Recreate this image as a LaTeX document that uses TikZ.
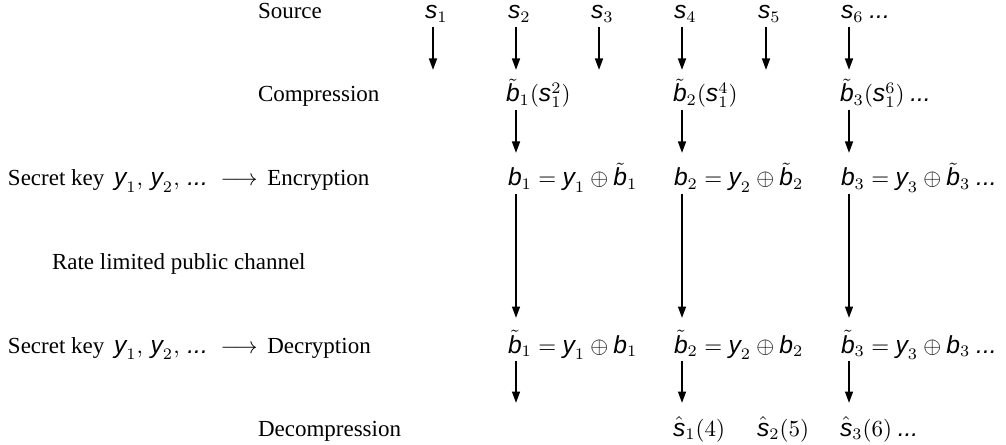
\documentclass[tikz,border=0pt]{standalone}
\usepackage[no-math]{fontspec}
\setmainfont{Liberation Serif}
\newfontfamily\sansmathfont[Scale=1.07]{Liberation Sans}
\usetikzlibrary{arrows.meta}
\newcommand\mv[1]{\mbox{\sansmathfont\itshape #1}}
\begin{document}
\begin{tikzpicture}[x=0.4348pt,y=-0.4348pt,
  lbl/.style={anchor=base west, inner sep=0pt, outer sep=0pt},
  flow/.style={line width=0.85pt, -{Triangle[length=5pt,width=3.4pt]}}]
\useasboundingbox (0,0) rectangle (1006,445);
% row labels
\node[lbl] (source) at (258,19) {Source};
\node[lbl] (compression) at (258,102) {Compression};
\node[lbl] (encryption) at (8,186) {Secret key\, $\mv{y}_1,\, \mv{y}_2,\, \mv{...}\; \longrightarrow$\, Encryption};
\node[lbl] (channel) at (52,269) {Rate limited public channel};
\node[lbl] (decryption) at (8,353) {Secret key\, $\mv{y}_1,\, \mv{y}_2,\, \mv{...}\; \longrightarrow$\, Decryption};
\node[lbl] (decompression) at (258,436) {Decompression};
% source row
\node[lbl] (s1) at (425,19) {$\mv{s}_1$};
\node[lbl] (s2) at (508,19) {$\mv{s}_2$};
\node[lbl] (s3) at (591,19) {$\mv{s}_3$};
\node[lbl] (s4) at (674,19) {$\mv{s}_4$};
\node[lbl] (s5) at (758,19) {$\mv{s}_5$};
\node[lbl] (s6) at (841,19) {$\mv{s}_6$ \mv{...}};
% compression row
\node[lbl] (c1) at (506,102) {$\tilde{\mv{b}}_1(\mv{s}_1^2)$};
\node[lbl] (c2) at (673,102) {$\tilde{\mv{b}}_2(\mv{s}_1^4)$};
\node[lbl] (c3) at (840,102) {$\tilde{\mv{b}}_3(\mv{s}_1^6)$ \mv{...}};
% encryption row
\node[lbl] (e1) at (508,186) {$\mv{b}_1 = \mv{y}_1 \oplus \tilde{\mv{b}}_1$};
\node[lbl] (e2) at (674,186) {$\mv{b}_2 = \mv{y}_2 \oplus \tilde{\mv{b}}_2$};
\node[lbl] (e3) at (841,186) {$\mv{b}_3 = \mv{y}_3 \oplus \tilde{\mv{b}}_3$ \mv{...}};
% decryption row
\node[lbl] (d1) at (508,353) {$\tilde{\mv{b}}_1 = \mv{y}_1 \oplus \mv{b}_1$};
\node[lbl] (d2) at (674,353) {$\tilde{\mv{b}}_2 = \mv{y}_2 \oplus \mv{b}_2$};
\node[lbl] (d3) at (841,353) {$\tilde{\mv{b}}_3 = \mv{y}_3 \oplus \mv{b}_3$ \mv{...}};
% decompression row
\node[lbl] (h1) at (673,436) {$\hat{\mv{s}}_1(4)$};
\node[lbl] (h2) at (757,436) {$\hat{\mv{s}}_2(5)$};
\node[lbl] (h3) at (840,436) {$\hat{\mv{s}}_3(6)$ \mv{...}};
% arrow ends
\coordinate (p1a) at (433,27);  \coordinate (p1b) at (433,70);
\coordinate (p2a) at (516,27);  \coordinate (p2b) at (516,70);
\coordinate (p3a) at (599,27);  \coordinate (p3b) at (599,70);
\coordinate (p4a) at (682,27);  \coordinate (p4b) at (682,70);
\coordinate (p5a) at (766,27);  \coordinate (p5b) at (766,70);
\coordinate (p6a) at (849,27);  \coordinate (p6b) at (849,70);
\coordinate (q1a) at (516,110); \coordinate (q1b) at (516,153);
\coordinate (q2a) at (682,110); \coordinate (q2b) at (682,153);
\coordinate (q3a) at (849,110); \coordinate (q3b) at (849,153);
\coordinate (r1a) at (516,194); \coordinate (r1b) at (516,318);
\coordinate (r2a) at (682,194); \coordinate (r2b) at (682,318);
\coordinate (r3a) at (849,194); \coordinate (r3b) at (849,318);
\coordinate (t1a) at (516,361); \coordinate (t1b) at (516,403);
\coordinate (t2a) at (682,361); \coordinate (t2b) at (682,403);
\coordinate (t3a) at (849,361); \coordinate (t3b) at (849,403);
% arrows
\draw[flow] (p1a) -- (p1b);
\draw[flow] (p2a) -- (p2b);
\draw[flow] (p3a) -- (p3b);
\draw[flow] (p4a) -- (p4b);
\draw[flow] (p5a) -- (p5b);
\draw[flow] (p6a) -- (p6b);
\draw[flow] (q1a) -- (q1b);
\draw[flow] (q2a) -- (q2b);
\draw[flow] (q3a) -- (q3b);
\draw[flow] (r1a) -- (r1b);
\draw[flow] (r2a) -- (r2b);
\draw[flow] (r3a) -- (r3b);
\draw[flow] (t1a) -- (t1b);
\draw[flow] (t2a) -- (t2b);
\draw[flow] (t3a) -- (t3b);
\end{tikzpicture}
\end{document}
